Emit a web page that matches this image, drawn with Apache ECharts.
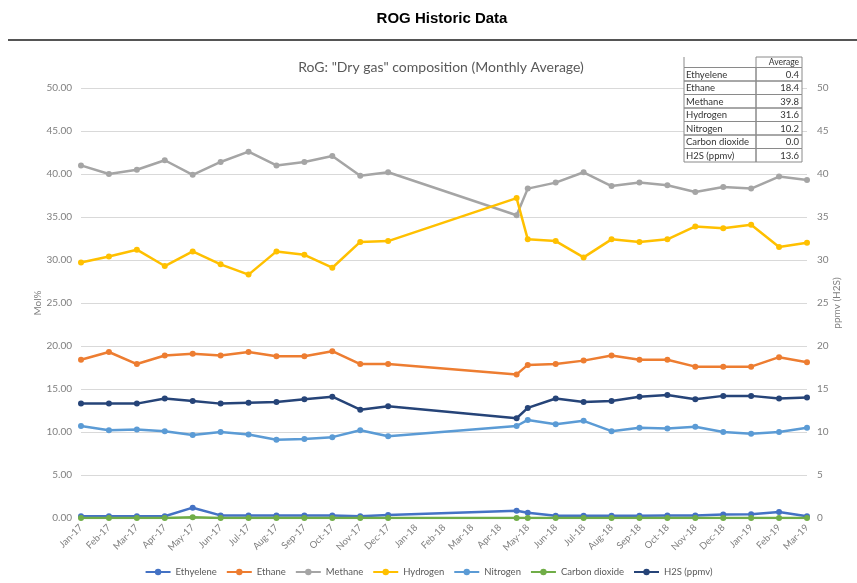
<!DOCTYPE html>
<html>
<head>
<meta charset="utf-8">
<script src="https://cdn.jsdelivr.net/npm/echarts@6/dist/echarts.min.js"></script>
<style>
  html, body { margin: 0; padding: 0; background: #fff; }
  #chart { width: 857px; height: 583px; }
</style>
</head>
<body>
<div id="chart"></div>
<script>
// month labels on the x axis (index 0 = Jan-17)
const monthLabels = ['Jan-17', 'Feb-17', 'Mar-17', 'Apr-17', 'May-17', 'Jun-17', 'Jul-17', 'Aug-17', 'Sep-17',
  'Oct-17', 'Nov-17', 'Dec-17', 'Jan-18', 'Feb-18', 'Mar-18', 'Apr-18', 'May-18', 'Jun-18', 'Jul-18',
  'Aug-18', 'Sep-18', 'Oct-18', 'Nov-18', 'Dec-18', 'Jan-19', 'Feb-19', 'Mar-19'];

// sample dates, as month offsets from Jan-17 (one late-April sample in 2018)
const sampleX = [0, 1, 2, 3, 4, 5, 6, 7, 8, 9, 10, 11, 15.6, 16, 17, 18, 19, 20, 21, 22, 23, 24, 25, 26];

const ethylene = [0.2, 0.2, 0.2, 0.2, 1.2, 0.3, 0.3, 0.3, 0.3, 0.3, 0.2, 0.35, 0.85, 0.6, 0.25, 0.25, 0.25, 0.25, 0.3, 0.3, 0.4, 0.45, 0.7, 0.2];
const ethane = [18.4, 19.3, 17.9, 18.9, 19.1, 18.9, 19.3, 18.8, 18.8, 19.4, 17.9, 17.9, 16.7, 17.8, 17.9, 18.3, 18.9, 18.4, 18.4, 17.6, 17.6, 17.6, 18.7, 18.1];
const methane = [41.0, 40.0, 40.5, 41.6, 39.9, 41.4, 42.6, 41.0, 41.4, 42.1, 39.8, 40.2, 35.2, 38.3, 39.0, 40.2, 38.6, 39.0, 38.7, 37.9, 38.5, 38.3, 39.7, 39.3];
const hydrogen = [29.7, 30.4, 31.2, 29.3, 31.0, 29.5, 28.3, 31.0, 30.6, 29.1, 32.1, 32.2, 37.2, 32.4, 32.2, 30.3, 32.4, 32.1, 32.4, 33.9, 33.7, 34.1, 31.5, 32.0];
const nitrogen = [10.7, 10.2, 10.3, 10.1, 9.65, 10.0, 9.7, 9.1, 9.2, 9.4, 10.2, 9.5, 10.7, 11.4, 10.9, 11.3, 10.1, 10.5, 10.4, 10.6, 10.0, 9.8, 10.0, 10.5];
const carbonDioxide = [0, 0, 0, 0, 0.1, 0, 0, 0, 0, 0, 0, 0, 0, 0, 0, 0, 0, 0, 0, 0, 0, 0, 0, 0];
const h2s = [13.3, 13.3, 13.3, 13.9, 13.6, 13.3, 13.4, 13.5, 13.8, 14.1, 12.6, 13.0, 11.6, 12.8, 13.9, 13.5, 13.6, 14.1, 14.3, 13.8, 14.2, 14.2, 13.9, 14.0];

// averages table (top right)
const tableNames = ['Ethyelene', 'Ethane', 'Methane', 'Hydrogen', 'Nitrogen', 'Carbon dioxide', 'H2S (ppmv)'];
const tableAvg = ['0.4', '18.4', '39.8', '31.6', '10.2', '0.0', '13.6'];

const FONT = 'Lato, "Open Sans", sans-serif';
const GRAY = '#7f7f7f';
const BORDER = '#8a8a8a';

const chart = echarts.init(document.getElementById('chart'), null, { renderer: 'canvas' });

function pairs(vals) {
  return vals.map((v, i) => [sampleX[i], v]);
}

function lineSeries(name, vals, color, axis) {
  return {
    name: name,
    type: 'line',
    yAxisIndex: axis || 0,
    data: pairs(vals),
    symbol: 'circle',
    symbolSize: 6,
    lineStyle: { color: color, width: 2.5 },
    itemStyle: { color: color },
    emphasis: { disabled: true },
    animation: false
  };
}

// table drawn as graphic rects + texts, above the grid lines
const tx0 = 684, tx1 = 756, tx2 = 802, tTop = 57, headH = 10.5, rowH = 13.5;
const tableEls = [];
tableEls.push({
  type: 'rect', z: 100, shape: { x: tx0, y: tTop, width: tx2 - tx0, height: headH + rowH * tableNames.length },
  style: { fill: '#fff', stroke: null }
});
tableEls.push({
  type: 'rect', z: 101, shape: { x: tx1, y: tTop, width: tx2 - tx1, height: headH },
  style: { fill: 'none', stroke: BORDER, lineWidth: 1 }
});
tableEls.push({
  type: 'line', z: 101, shape: { x1: tx0, y1: tTop, x2: tx0, y2: tTop + headH },
  style: { stroke: BORDER, lineWidth: 1 }
});
tableEls.push({
  type: 'text', z: 102, x: tx2 - 3, y: tTop + headH / 2 + 0.5,
  style: { text: 'Average', fill: '#333', font: '8.5px ' + FONT, align: 'right', verticalAlign: 'middle' }
});
tableNames.forEach((n, i) => {
  const y = tTop + headH + i * rowH;
  tableEls.push({
    type: 'rect', z: 101, shape: { x: tx0, y: y, width: tx1 - tx0, height: rowH },
    style: { fill: 'none', stroke: BORDER, lineWidth: 1 }
  });
  tableEls.push({
    type: 'rect', z: 101, shape: { x: tx1, y: y, width: tx2 - tx1, height: rowH },
    style: { fill: 'none', stroke: BORDER, lineWidth: 1 }
  });
  tableEls.push({
    type: 'text', z: 102, x: tx0 + 2, y: y + rowH / 2 + 0.5,
    style: { text: n, fill: '#333', font: '9.5px ' + FONT, align: 'left', verticalAlign: 'middle' }
  });
  tableEls.push({
    type: 'text', z: 102, x: tx2 - 3, y: y + rowH / 2 + 0.5,
    style: { text: tableAvg[i], fill: '#333', font: '9.5px ' + FONT, align: 'right', verticalAlign: 'middle' }
  });
});

const option = {
  backgroundColor: '#fff',
  animation: false,
  title: [
    {
      text: 'ROG Historic Data', left: 437, top: 6, textAlign: 'center',
      textStyle: { fontFamily: '"Liberation Sans", Arial, sans-serif', fontWeight: 'bold', fontSize: 15, color: '#000' }
    },
    {
      text: 'RoG: "Dry gas" composition (Monthly Average)', left: 436, top: 55, textAlign: 'center',
      textStyle: { fontFamily: FONT, fontWeight: 'normal', fontSize: 14, color: '#595959' }
    }
  ],
  graphic: [
    { type: 'line', z: 100, shape: { x1: 8, y1: 40, x2: 857, y2: 40 }, style: { stroke: '#555', lineWidth: 2 } }
  ].concat(tableEls),
  legend: {
    bottom: 1,
    left: 'center',
    itemWidth: 25,
    itemHeight: 8,
    itemGap: 9,
    textStyle: { fontFamily: FONT, fontSize: 9.5, color: '#595959' },
    data: ['Ethyelene', 'Ethane', 'Methane', 'Hydrogen', 'Nitrogen', 'Carbon dioxide', 'H2S (ppmv)']
  },
  grid: { left: 81, right: 50, top: 88, bottom: 65 },
  xAxis: {
    type: 'value',
    min: 0,
    max: 26,
    interval: 1,
    axisLine: { show: true, onZero: false, lineStyle: { color: '#d9d9d9' } },
    axisTick: { show: false },
    splitLine: { show: false },
    axisLabel: {
      rotate: 45,
      margin: 8,
      fontFamily: FONT,
      fontSize: 9.5,
      color: GRAY,
      showMinLabel: true,
      showMaxLabel: true,
      formatter: (v) => monthLabels[Math.round(v)] || ''
    }
  },
  yAxis: [
    {
      type: 'value',
      min: 0, max: 50, interval: 5,
      name: 'Mol%',
      nameLocation: 'middle',
      nameRotate: 90,
      nameGap: 38,
      nameMoveOverlap: false,
      nameTextStyle: { fontFamily: FONT, fontSize: 10, color: GRAY },
      axisLine: { show: false },
      axisTick: { show: false },
      axisLabel: { margin: 9, fontFamily: FONT, fontSize: 10, color: GRAY, formatter: (v) => v.toFixed(2) },
      splitLine: { lineStyle: { color: '#d9d9d9', width: 1 } }
    },
    {
      type: 'value',
      min: 0, max: 50, interval: 5,
      position: 'right',
      name: 'ppmv (H2S)',
      nameLocation: 'middle',
      nameRotate: 90,
      nameGap: 25,
      nameMoveOverlap: false,
      nameTextStyle: { fontFamily: FONT, fontSize: 10, color: GRAY },
      axisLine: { show: false },
      axisTick: { show: false },
      axisLabel: { margin: 10, fontFamily: FONT, fontSize: 10, color: GRAY },
      splitLine: { show: false }
    }
  ],
  series: [
    lineSeries('Ethyelene', ethylene, '#4472C4'),
    lineSeries('Ethane', ethane, '#ED7D31'),
    lineSeries('Methane', methane, '#A5A5A5'),
    lineSeries('Hydrogen', hydrogen, '#FFC000'),
    lineSeries('Nitrogen', nitrogen, '#5B9BD5'),
    lineSeries('Carbon dioxide', carbonDioxide, '#70AD47'),
    lineSeries('H2S (ppmv)', h2s, '#264478', 1)
  ]
};

chart.setOption(option);
</script>
</body>
</html>
